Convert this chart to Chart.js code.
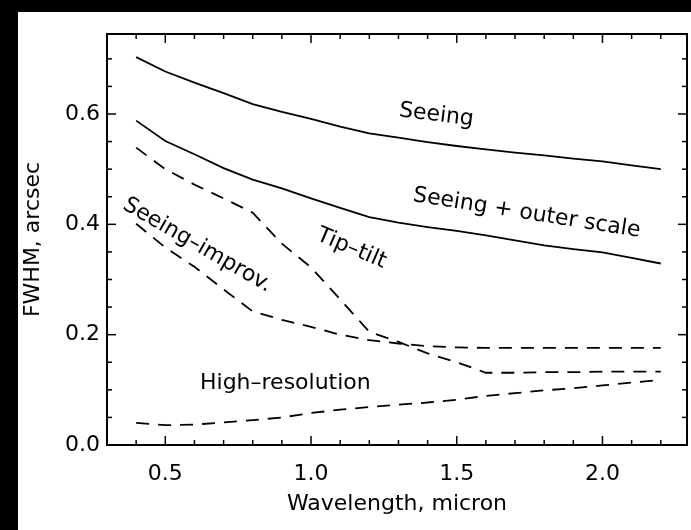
<!DOCTYPE html>
<html>
<head>
<meta charset="utf-8">
<script src="https://cdn.jsdelivr.net/npm/chart.js@4.4.0/dist/chart.umd.min.js"></script>
<style>
  html, body { margin: 0; padding: 0; background: #000; width: 691px; height: 530px; overflow: hidden; }
  #wrap { position: absolute; left: 18px; top: 12px; width: 673px; height: 518px; background: #fff; }
</style>
</head>
<body>
<div id="wrap"><canvas id="chart"></canvas></div>
<script>
// Wavelength grid (micron) shared by all curves
const wavelength = [0.4, 0.5, 0.6, 0.7, 0.8, 0.9, 1.0, 1.1, 1.2, 1.3, 1.4, 1.5, 1.6, 1.7, 1.8, 1.9, 2.0, 2.1, 2.2];

// FWHM in arcsec
const seeing       = [0.703, 0.677, 0.657, 0.638, 0.618, 0.604, 0.591, 0.577, 0.565, 0.557, 0.549, 0.542, 0.536, 0.530, 0.525, 0.519, 0.514, 0.507, 0.500];
const seeingOuter  = [0.588, 0.551, 0.527, 0.502, 0.481, 0.465, 0.447, 0.430, 0.413, 0.403, 0.395, 0.388, 0.380, 0.371, 0.362, 0.355, 0.349, 0.339, 0.329];
const tipTilt      = [0.539, 0.500, 0.472, 0.447, 0.421, 0.365, 0.322, 0.264, 0.205, 0.187, 0.166, 0.150, 0.131, 0.131, 0.132, 0.132, 0.133, 0.133, 0.133];
const seeingImprov = [0.401, 0.358, 0.323, 0.282, 0.242, 0.227, 0.214, 0.200, 0.190, 0.184, 0.179, 0.177, 0.176, 0.176, 0.176, 0.176, 0.176, 0.176, 0.176];
const highRes      = [0.040, 0.036, 0.037, 0.041, 0.045, 0.050, 0.058, 0.064, 0.069, 0.073, 0.077, 0.082, 0.089, 0.094, 0.099, 0.103, 0.108, 0.113, 0.118];

// curve labels, placed in data units
const notes = [
  { text: 'Seeing', x: 1.43, y: 0.598, angle: 7 },
  { text: 'Seeing + outer scale', x: 1.74, y: 0.42, angle: 9 },
  { text: 'Tip–tilt', x: 1.139, y: 0.356, angle: 23 },
  { text: 'Seeing–improv.', x: 0.61, y: 0.362, angle: 30 },
  { text: 'High–resolution', x: 0.912, y: 0.111, angle: 0 }
];

const FONT = 'DejaVu Sans';

const makeSeries = (label, values, dashed) => ({
  label: label,
  data: wavelength.map((w, i) => ({ x: w, y: values[i] })),
  borderColor: '#000',
  borderWidth: 1.8,
  borderDash: dashed ? [13, 9] : [],
  pointRadius: 0,
  tension: 0,
  fill: false
});

// box frame + inward ticks on all four sides
const frameTicks = {
  id: 'frameTicks',
  afterDatasetsDraw(chart) {
    const { ctx, chartArea: a, scales: { x, y } } = chart;
    ctx.save();
    ctx.strokeStyle = '#000';
    ctx.lineWidth = 1.5;
    const seg = (x1, y1, x2, y2) => { ctx.beginPath(); ctx.moveTo(x1, y1); ctx.lineTo(x2, y2); ctx.stroke(); };
    for (let i = 4; i <= 22; i++) {
      const px = x.getPixelForValue(i / 10);
      const len = i % 5 === 0 ? 9 : 5;
      seg(px, a.bottom, px, a.bottom - len);
      seg(px, a.top, px, a.top + len);
    }
    for (let i = 1; i <= 14; i++) {
      const py = y.getPixelForValue(i * 0.05);
      const len = i % 4 === 0 ? 9 : 5;
      seg(a.left, py, a.left + len, py);
      seg(a.right, py, a.right - len, py);
    }
    ctx.lineWidth = 2;
    ctx.strokeRect(a.left, a.top, a.right - a.left, a.bottom - a.top);
    ctx.restore();
  }
};

const curveLabels = {
  id: 'curveLabels',
  afterDatasetsDraw(chart) {
    const { ctx, scales: { x, y } } = chart;
    ctx.save();
    ctx.fillStyle = '#000';
    ctx.font = '22px "' + FONT + '"';
    ctx.textAlign = 'center';
    ctx.textBaseline = 'middle';
    notes.forEach(n => {
      ctx.save();
      ctx.translate(x.getPixelForValue(n.x), y.getPixelForValue(n.y));
      ctx.rotate(n.angle * Math.PI / 180);
      ctx.fillText(n.text, 0, 0);
      ctx.restore();
    });
    ctx.restore();
  }
};

const ctx = document.getElementById('chart').getContext('2d');
new Chart(ctx, {
  type: 'line',
  data: {
    datasets: [
      makeSeries('Seeing', seeing, false),
      makeSeries('Seeing + outer scale', seeingOuter, false),
      makeSeries('Tip-tilt', tipTilt, true),
      makeSeries('Seeing-improv.', seeingImprov, true),
      makeSeries('High-resolution', highRes, true)
    ]
  },
  options: {
    responsive: true,
    maintainAspectRatio: false,
    devicePixelRatio: 1,
    animation: false,
    layout: { padding: { left: 0, top: 22, right: 4, bottom: 0 } },
    plugins: { legend: { display: false }, tooltip: { enabled: false } },
    scales: {
      x: {
        type: 'linear',
        min: 0.3,
        max: 2.29,
        grid: { display: false, drawTicks: false },
        border: { display: false },
        ticks: {
          stepSize: 0.5,
          includeBounds: false,
          maxRotation: 0,
          padding: 16,
          color: '#000',
          font: { family: FONT, size: 22 },
          callback: v => v.toFixed(1)
        },
        title: {
          display: true,
          text: 'Wavelength, micron',
          color: '#000',
          font: { family: FONT, size: 22 },
          padding: { top: 0, bottom: 13 }
        },
        afterFit: s => { s.height = 85; }
      },
      y: {
        min: 0,
        max: 0.745,
        grid: { display: false, drawTicks: false },
        border: { display: false },
        ticks: {
          stepSize: 0.2,
          includeBounds: false,
          padding: 7,
          color: '#000',
          font: { family: FONT, size: 22 },
          callback: v => v.toFixed(1)
        },
        title: {
          display: true,
          text: 'FWHM, arcsec',
          color: '#000',
          font: { family: FONT, size: 22 },
          padding: { top: 2, bottom: 0 }
        },
        afterFit: s => { s.width = 89; }
      }
    }
  },
  plugins: [frameTicks, curveLabels]
});
</script>
</body>
</html>
